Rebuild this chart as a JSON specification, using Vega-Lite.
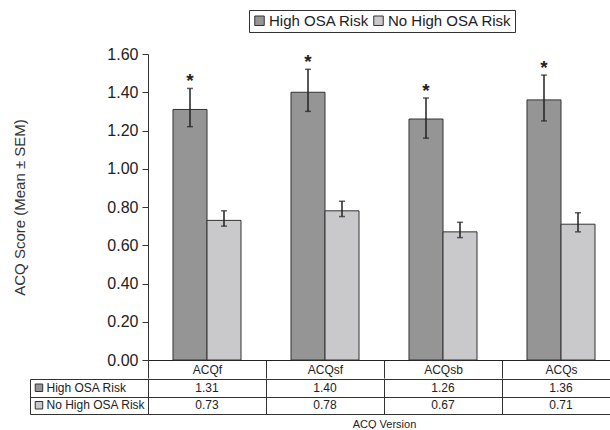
{
  "$schema": "https://vega.github.io/schema/vega-lite/v6.json",
  "padding": {"left": 12, "top": 9, "right": -11, "bottom": 0},
  "config": {
    "font": "Liberation Sans",
    "view": {"stroke": null},
    "axis": {"domainColor": "#333", "tickColor": "#333", "labelColor": "#222", "titleColor": "#333", "gridColor": "#333", "titleFontWeight": "normal"},
    "axisY": {"labelFontSize": 16, "titleFontSize": 15, "labelOverlap": false}
  },
  "datasets": {
    "bars": [
      {"version": "ACQf", "group": "High OSA Risk", "value": 1.31, "lo": 1.22, "hi": 1.42, "sig": true},
      {"version": "ACQf", "group": "No High OSA Risk", "value": 0.73, "lo": 0.70, "hi": 0.78, "sig": false},
      {"version": "ACQsf", "group": "High OSA Risk", "value": 1.40, "lo": 1.30, "hi": 1.52, "sig": true},
      {"version": "ACQsf", "group": "No High OSA Risk", "value": 0.78, "lo": 0.75, "hi": 0.83, "sig": false},
      {"version": "ACQsb", "group": "High OSA Risk", "value": 1.26, "lo": 1.16, "hi": 1.37, "sig": true},
      {"version": "ACQsb", "group": "No High OSA Risk", "value": 0.67, "lo": 0.64, "hi": 0.72, "sig": false},
      {"version": "ACQs", "group": "High OSA Risk", "value": 1.36, "lo": 1.25, "hi": 1.49, "sig": true},
      {"version": "ACQs", "group": "No High OSA Risk", "value": 0.71, "lo": 0.67, "hi": 0.77, "sig": false}
    ],
    "rows": [
      {"col": " ", "group": "High OSA Risk"},
      {"col": " ", "group": "No High OSA Risk"}
    ]
  },
  "spacing": 0,
  "resolve": {"scale": {"x": "independent", "y": "independent"}},
  "vconcat": [
    {
      "width": 472,
      "height": 306,
      "data": {"name": "bars"},
      "encoding": {
        "x": {
          "field": "version", "type": "nominal",
          "sort": ["ACQf", "ACQsf", "ACQsb", "ACQs"],
          "scale": {"paddingInner": 0, "paddingOuter": 0},
          "axis": {"title": null, "tickBand": "extent", "tickSize": 18, "labelPadding": -14, "labelFontSize": 12, "labelAngle": 0, "labelBaseline": "top", "domainColor": "#222"}
        },
        "xOffset": {
          "field": "group", "type": "nominal",
          "sort": ["High OSA Risk", "No High OSA Risk"],
          "scale": {"paddingInner": 0, "paddingOuter": 0.735}
        }
      },
      "layer": [
        {
          "mark": {"type": "bar", "stroke": "#333", "strokeWidth": 1},
          "encoding": {
            "y": {
              "field": "value", "type": "quantitative", "title": "ACQ Score (Mean ± SEM)",
              "scale": {"domain": [0, 1.6], "nice": false},
              "axis": {"values": [0, 0.2, 0.4, 0.6, 0.8, 1.0, 1.2, 1.4, 1.6], "tickCount": 12, "format": ".2f", "labelFontSize": 16, "labelOverlap": false, "tickSize": 6, "labelPadding": 4, "minExtent": 110, "titlePadding": 11, "titleFontSize": 15, "grid": false}
            },
            "color": {
              "field": "group", "type": "nominal",
              "scale": {"domain": ["High OSA Risk", "No High OSA Risk"], "range": ["#959595", "#c9c9cb"]},
              "legend": {"orient": "none", "legendX": 101, "legendY": -44, "direction": "horizontal", "title": null, "symbolType": "square", "symbolSize": 90, "symbolStrokeColor": "#333", "symbolStrokeWidth": 1, "labelFontSize": 15, "labelColor": "#222", "strokeColor": "#333", "padding": 3, "columnPadding": 1, "labelOffset": 2}
            }
          }
        },
        {
          "mark": {"type": "rule", "strokeWidth": 1.5, "color": "#222"},
          "encoding": {
            "y": {"field": "lo", "type": "quantitative", "title": "ACQ Score (Mean ± SEM)",
              "axis": {"values": [0, 0.2, 0.4, 0.6, 0.8, 1.0, 1.2, 1.4, 1.6], "tickCount": 12, "format": ".2f", "labelFontSize": 16, "labelOverlap": false, "tickSize": 6, "labelPadding": 4, "minExtent": 110, "titlePadding": 11, "titleFontSize": 15, "grid": false}},
            "y2": {"field": "hi"}
          }
        },
        {
          "mark": {"type": "tick", "orient": "horizontal", "size": 6, "thickness": 1.5, "color": "#222"},
          "encoding": {"y": {"field": "lo", "type": "quantitative", "title": "ACQ Score (Mean ± SEM)",
            "axis": {"values": [0, 0.2, 0.4, 0.6, 0.8, 1.0, 1.2, 1.4, 1.6], "tickCount": 12, "format": ".2f", "labelFontSize": 16, "labelOverlap": false, "tickSize": 6, "labelPadding": 4, "minExtent": 110, "titlePadding": 11, "titleFontSize": 15, "grid": false}}}
        },
        {
          "mark": {"type": "tick", "orient": "horizontal", "size": 6, "thickness": 1.5, "color": "#222"},
          "encoding": {"y": {"field": "hi", "type": "quantitative", "title": "ACQ Score (Mean ± SEM)",
            "axis": {"values": [0, 0.2, 0.4, 0.6, 0.8, 1.0, 1.2, 1.4, 1.6], "tickCount": 12, "format": ".2f", "labelFontSize": 16, "labelOverlap": false, "tickSize": 6, "labelPadding": 4, "minExtent": 110, "titlePadding": 11, "titleFontSize": 15, "grid": false}}}
        },
        {
          "transform": [{"filter": "datum.sig"}],
          "mark": {"type": "text", "text": "*", "fontSize": 19, "fontWeight": "bold", "dy": -1, "baseline": "alphabetic", "color": "#222"},
          "encoding": {"y": {"field": "hi", "type": "quantitative", "title": "ACQ Score (Mean ± SEM)",
            "axis": {"values": [0, 0.2, 0.4, 0.6, 0.8, 1.0, 1.2, 1.4, 1.6], "tickCount": 12, "format": ".2f", "labelFontSize": 16, "labelOverlap": false, "tickSize": 6, "labelPadding": 4, "minExtent": 110, "titlePadding": 11, "titleFontSize": 15, "grid": false}}}
        }
      ]
    },
    {
      "width": 472,
      "height": 35,
      "encoding": {
        "x": {
          "field": "version", "type": "nominal",
          "scale": {"domain": [" ", "ACQf", "ACQsf", "ACQsb", "ACQs"], "range": [-118, 472], "paddingInner": 0, "paddingOuter": 0},
          "axis": {"title": "ACQ Version", "labels": false, "ticks": false, "domain": false, "grid": true, "tickBand": "extent", "titleFontSize": 11, "titlePadding": 4, "titleX": 236, "titleColor": "#222"}
        },
        "y": {
          "field": "group", "type": "nominal",
          "scale": {"domain": ["High OSA Risk", "No High OSA Risk"], "paddingInner": 0, "paddingOuter": 0},
          "axis": {"title": null, "labels": false, "ticks": false, "domain": false, "grid": true, "tickBand": "extent"}
        }
      },
      "layer": [
        {
          "data": {"name": "bars"},
          "mark": {"type": "text", "fontSize": 12, "color": "#222", "baseline": "middle"},
          "encoding": {"text": {"field": "value", "type": "quantitative", "format": ".2f"}}
        },
        {
          "data": {"name": "rows"},
          "mark": {"type": "point", "shape": "square", "filled": true, "size": 56, "stroke": "#333", "strokeWidth": 1, "opacity": 1},
          "encoding": {
            "x": {"field": "col", "type": "nominal", "bandPosition": 0.076},
            "color": {"field": "group", "type": "nominal"}
          }
        },
        {
          "data": {"name": "rows"},
          "mark": {"type": "text", "align": "left", "fontSize": 12, "color": "#222", "baseline": "middle"},
          "encoding": {
            "x": {"field": "col", "type": "nominal", "bandPosition": 0.14},
            "text": {"field": "group"}
          }
        }
      ]
    }
  ]
}
